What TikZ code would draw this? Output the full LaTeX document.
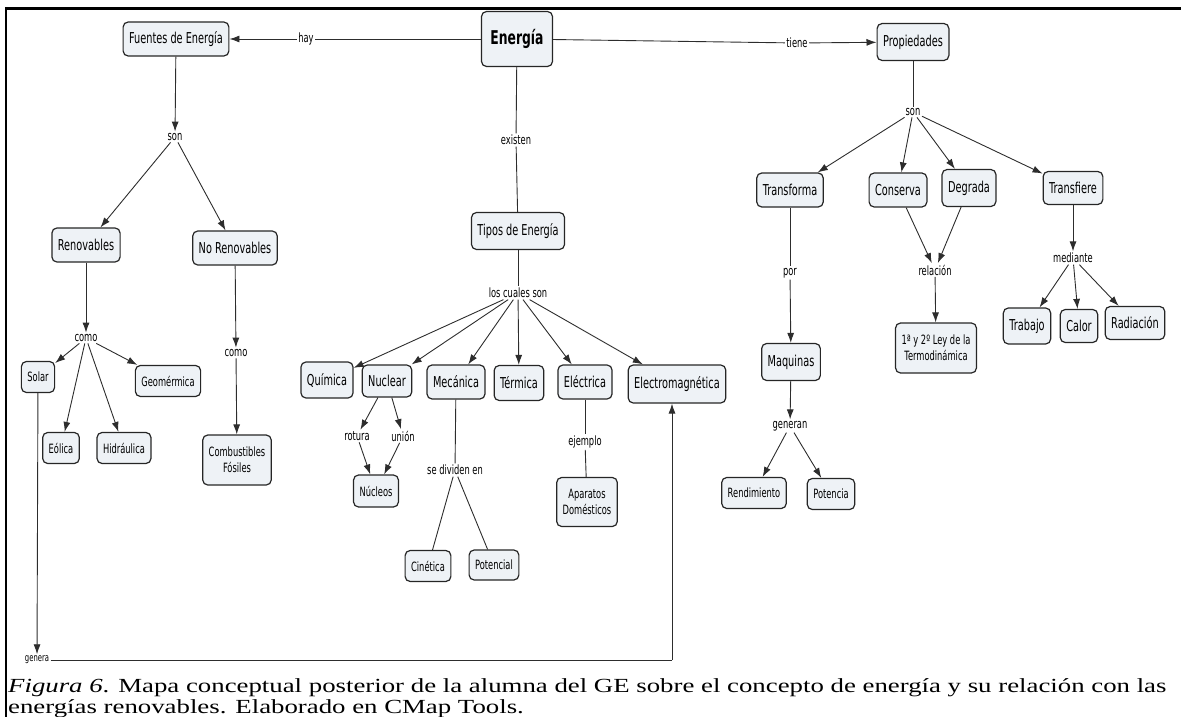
\documentclass[tikz,border=0pt]{standalone}
\usepackage{fontspec}
\setmainfont{Liberation Serif}
\newfontfamily\cmapfont[FakeStretch=0.65]{DejaVu Sans}
\newfontfamily\capfont[FakeStretch=1.34]{Liberation Serif}
\usetikzlibrary{arrows.meta}
\definecolor{conceptfill}{RGB}{238,242,246}
\definecolor{linkgray}{RGB}{45,45,45}

\begin{document}
\begin{tikzpicture}[x=1pt,y=-1pt,
    concept/.style={draw=black!85,line width=1.2pt,rounded corners=5pt,fill=conceptfill,
        font=\cmapfont\fontsize{15}{16}\selectfont,inner xsep=6pt,inner ysep=0pt,
        minimum height=34pt,align=center},
    small/.style={concept,font=\cmapfont\fontsize{12.8}{16}\selectfont,minimum height=31pt},
    phrase/.style={font=\cmapfont\fontsize{12.8}{14}\selectfont,inner sep=1.5pt},
    link/.style={draw=linkgray,line width=0.9pt},
    arr/.style={link,-{Latex[length=10pt,width=7pt]}}]
    \useasboundingbox (0,0) rectangle (1181,717);
    % frame of the figure
    \draw[line width=2.5pt] (6,717) -- (6,8.5) -- (1181,8.5);

    % main concept
    \node[concept,font=\cmapfont\bfseries\fontsize{19}{21}\selectfont,minimum width=71pt,minimum height=55pt] (energia) at (517,39) {Energía};
    \node[concept] (fuentes) at (176,39) {Fuentes de Energía};
    \node[concept,minimum height=37pt] (propiedades) at (913,42) {Propiedades};
    \node[concept,minimum height=37pt] (tipos) at (518,231) {Tipos de Energía};
    \node[phrase] (hay) at (306,39) {hay};
    \node[phrase] (tiene) at (797,43) {tiene};
    \node[phrase] (existen) at (516,140) {existen};
    \draw[link] (energia) -- (hay);
    \draw[arr] (hay) -- (fuentes);
    \draw[link] (energia) -- (tiene);
    \draw[arr] (tiene) -- (propiedades);
    \draw[link] (energia) -- (existen);
    \draw[link] (existen) -- (tipos);

    % fuentes
    \node[phrase] (sonA) at (175,137) {son};
    \node[concept] (renov) at (86,245) {Renovables};
    \node[concept] (norenov) at (235,248) {No Renovables};
    \draw[arr] (fuentes) -- (sonA);
    \draw[arr] (sonA) -- (renov);
    \draw[arr] (sonA) -- (norenov);
    \node[phrase] (comoA) at (86,338) {como};
    \node[phrase] (comoB) at (236,353) {como};
    \node[small] (solar) at (38,377) {Solar};
    \node[small] (eolica) at (61,448) {Eólica};
    \node[small] (hidraulica) at (124,448) {Hidráulica};
    \node[small] (geomermica) at (168,381) {Geomérmica};
    \node[small,minimum height=50pt] (combustibles) at (237,460) {Combustibles\\Fósiles};
    \draw[arr] (renov) -- (comoA);
    \draw[arr] (comoA) -- (solar);
    \draw[arr] (comoA) -- (eolica);
    \draw[arr] (comoA) -- (hidraulica);
    \draw[arr] (comoA) -- (geomermica);
    \draw[arr] (norenov) -- (comoB);
    \draw[arr] (comoB) -- (combustibles);

    % tipos de energia
    \node[phrase] (loscuales) at (518,293) {los cuales son};
    \node[concept,minimum height=36pt] (quimica) at (327,380) {Química};
    \node[concept,minimum height=32pt] (nuclear) at (387,381) {Nuclear};
    \node[concept] (mecanica) at (456,382) {Mecánica};
    \node[concept,minimum height=35pt] (termica) at (519,383) {Térmica};
    \node[concept] (electrica) at (585,382) {Eléctrica};
    \node[concept,minimum height=38pt] (electromag) at (677,384) {Electromagnética};
    \draw[link] (tipos) -- (loscuales);
    \foreach \t in {quimica,nuclear,mecanica,termica,electrica,electromag}
        \draw[arr] (loscuales) -- (\t);
    \node[phrase] (rotura) at (357,436) {rotura};
    \node[phrase] (union) at (403,436) {unión};
    \node[small,minimum height=32pt] (nucleos) at (376,491) {Núcleos};
    \draw[arr] (nuclear) -- (rotura);
    \draw[arr] (nuclear) -- (union);
    \draw[arr] (rotura) -- (nucleos);
    \draw[arr] (union) -- (nucleos);
    \node[phrase] (sedividen) at (455,470) {se dividen en};
    \node[small] (cinetica) at (428,566) {Cinética};
    \node[small,minimum height=30pt] (potencial) at (494,565) {Potencial};
    \draw[link] (mecanica) -- (sedividen);
    \draw[link] (sedividen) -- (cinetica);
    \draw[link] (sedividen) -- (potencial);
    \node[phrase] (ejemplo) at (585,442) {ejemplo};
    \node[small,minimum height=49pt] (aparatos) at (587,502) {Aparatos\\Domésticos};
    \draw[link] (electrica) -- (ejemplo);
    \draw[link] (ejemplo) -- (aparatos);

    % solar genera electromagnetica
    \node[phrase,font=\cmapfont\fontsize{10.5}{12}\selectfont] (genera) at (37,660) {genera};
    \coordinate (vuelta) at (672,660);
    \draw[arr] (solar) -- (genera);
    \draw[link] (genera) -- (vuelta);
    \draw[arr] (vuelta) -- (vuelta |- electromag.south);

    % propiedades
    \node[phrase] (sonB) at (913,112) {son};
    \node[concept] (transforma) at (790,190) {Transforma};
    \node[concept] (conserva) at (898,190) {Conserva};
    \node[concept,minimum height=37pt] (degrada) at (969,188) {Degrada};
    \node[concept,minimum height=33pt] (transfiere) at (1073,188) {Transfiere};
    \draw[link] (propiedades) -- (sonB);
    \foreach \t in {transforma,conserva,degrada,transfiere}
        \draw[arr] (sonB) -- (\t);
    \node[phrase] (por) at (790,273) {por};
    \node[concept,minimum height=37pt] (maquinas) at (791,362) {Maquinas};
    \node[phrase] (generan) at (790,426) {generan};
    \node[small] (rendimiento) at (754,493) {Rendimiento};
    \node[small] (potencia) at (831,494) {Potencia};
    \draw[link] (transforma) -- (por);
    \draw[arr] (por) -- (maquinas);
    \draw[arr] (maquinas) -- (generan);
    \draw[arr] (generan) -- (rendimiento);
    \draw[arr] (generan) -- (potencia);
    \node[phrase] (relacion) at (935,270) {relación};
    \node[small,minimum height=50pt] (leyes) at (936,348) {1ª y 2º Ley de la\\Termodinámica};
    \draw[arr] (conserva) -- (relacion);
    \draw[arr] (degrada) -- (relacion);
    \draw[arr] (relacion) -- (leyes);
    \node[phrase] (mediante) at (1073,258) {mediante};
    \node[concept,minimum height=36pt] (trabajo) at (1027,326) {Trabajo};
    \node[concept,minimum height=33pt] (calor) at (1079,326) {Calor};
    \node[concept,minimum height=33pt] (radiacion) at (1135,323) {Radiación};
    \draw[arr] (transfiere) -- (mediante);
    \foreach \t in {trabajo,calor,radiacion}
        \draw[arr] (mediante) -- (\t);

    % caption
    \node[anchor=base west,inner sep=0pt,font=\capfont\fontsize{20}{23}\selectfont] (caption1) at (8,692)
        {\textit{Figura 6}. Mapa conceptual posterior de la alumna del GE sobre el concepto de energía y su relación con las};
    \node[anchor=base west,inner sep=0pt,font=\capfont\fontsize{20}{23}\selectfont] (caption2) at (8,713)
        {energías renovables. Elaborado en CMap Tools.};
\end{tikzpicture}
\end{document}
